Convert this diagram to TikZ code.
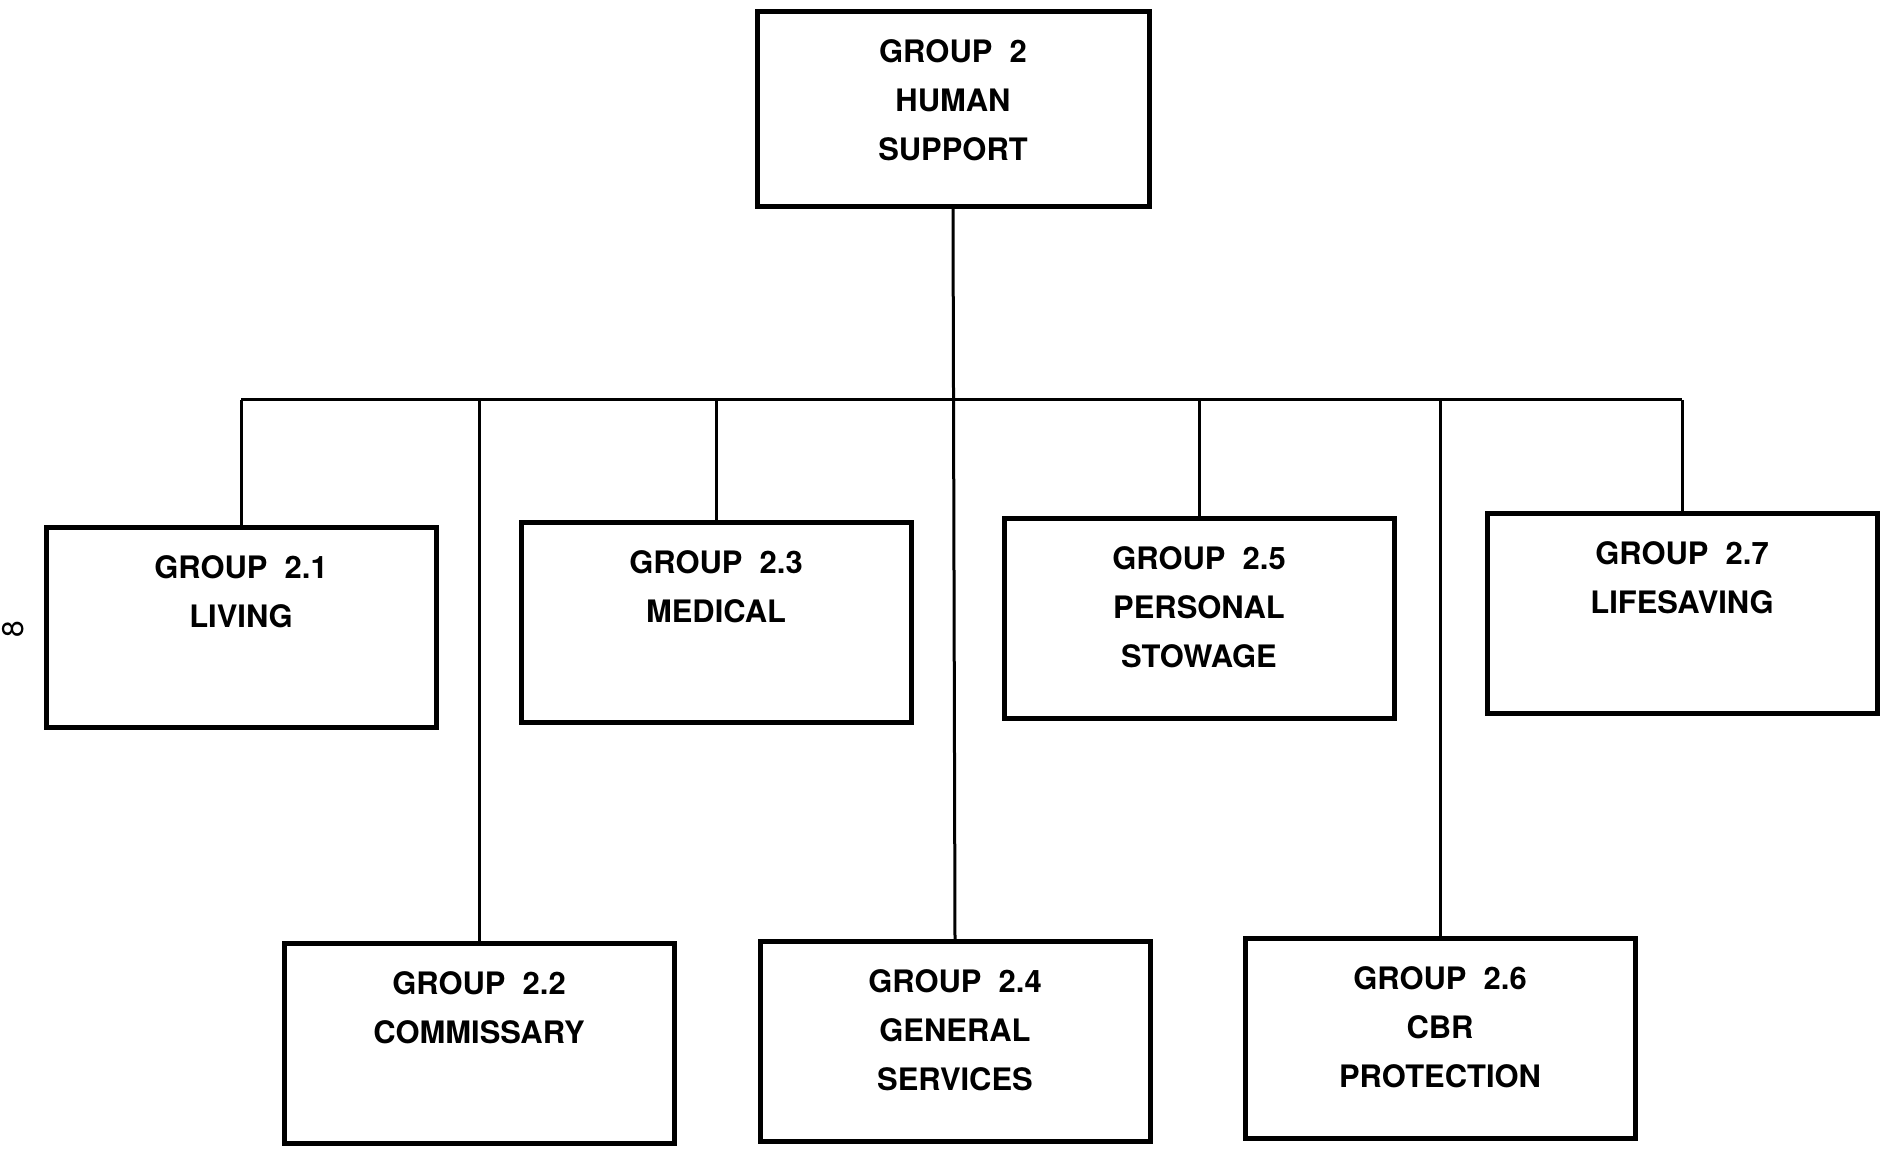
\documentclass[tikz,border=0pt]{standalone}
\usepackage{fontspec}
\setmainfont{TeX Gyre Heros}
\usetikzlibrary{positioning}
\tikzset{
  grpbox/.style={draw, line width=0.5mm, minimum width=39mm, minimum height=20mm,
    inner sep=0pt, anchor=north},
  grptxt/.style={anchor=north, align=center, inner sep=0pt, yshift=-3mm,
    font=\bfseries\fontsize{8.8}{13.9}\selectfont},
  link/.style={line width=0.3mm}
}
\begin{document}
\begin{tikzpicture}[x=0.1mm, y=-0.1mm]
            \useasboundingbox (0,0) rectangle (1880,1149);
            % Top group
            \node[grpbox, minimum width=39.2mm, minimum height=19.5mm,
              label={[grptxt]north:{GROUP\ \ 2\\HUMAN\\SUPPORT}}] (top) at (953,9) {};
            % First row
            \node[grpbox, label={[grptxt]north:{GROUP\ \ 2.1\\LIVING}}] (g21) at (241,525) {};
            \node[grpbox, label={[grptxt]north:{GROUP\ \ 2.3\\MEDICAL}}] (g23) at (716,520) {};
            \node[grpbox, label={[grptxt]north:{GROUP\ \ 2.5\\PERSONAL\\STOWAGE}}] (g25) at (1199,516) {};
            \node[grpbox, label={[grptxt]north:{GROUP\ \ 2.7\\LIFESAVING}}] (g27) at (1682,511) {};
            % Second row
            \node[grpbox, label={[grptxt]north:{GROUP\ \ 2.2\\COMMISSARY}}] (g22) at (479,941) {};
            \node[grpbox, label={[grptxt]north:{GROUP\ \ 2.4\\GENERAL\\SERVICES}}] (g24) at (955,939) {};
            \node[grpbox, label={[grptxt]north:{GROUP\ \ 2.6\\CBR\\PROTECTION}}] (g26) at (1440,936) {};
            % Connectors
            \coordinate (bar) at (0,400);
            \draw[link] (top.south) -- (g24.north);
            \draw[link] (g21.north |- bar) -- (g27.north |- bar);
            \foreach \g in {g21,g22,g23,g25,g26,g27}
              \draw[link] (\g.north |- bar) -- (\g.north);
            % Page number
            \node[rotate=90, font=\fontsize{8.5}{10}\selectfont] (pagenum) at (13,629) {8};
          \end{tikzpicture}
\end{document}
